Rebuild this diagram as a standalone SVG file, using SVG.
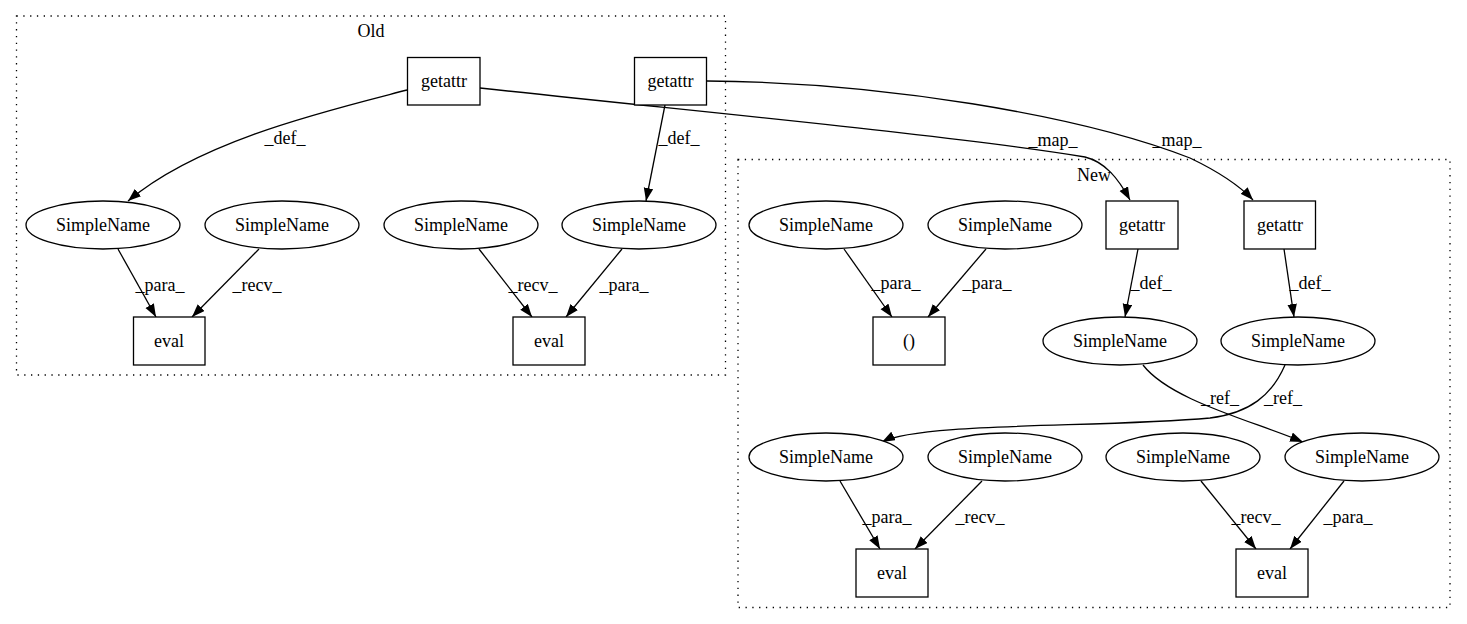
<svg xmlns="http://www.w3.org/2000/svg" width="1467" height="624" viewBox="0 0 1467 624">
<defs>
<marker id="ah" markerUnits="userSpaceOnUse" markerWidth="14" markerHeight="10" refX="13" refY="4.8" orient="auto">
<path d="M0,0 L13,4.8 L0,9.6 z" fill="#000"/>
</marker>
<style>
text{font-family:"Liberation Serif","Times New Roman",serif;font-size:18px;fill:#000;text-anchor:middle}
.cl{fill:none;stroke:#000;stroke-width:1.3;stroke-dasharray:1.3,5.5}
.n{fill:#fff;stroke:#000;stroke-width:1.3}
.e{fill:none;stroke:#000;stroke-width:1.3;marker-end:url(#ah)}
</style>
</defs>
<rect width="1467" height="624" fill="#fff"/>
<g id="cluster_old">
<rect class="cl" x="16.5" y="16" width="709" height="359"/>
<text x="371" y="37">Old</text>
</g>
<g id="cluster_new">
<rect class="cl" x="738" y="159.5" width="712" height="448"/>
<text x="1094" y="181">New</text>
</g>
<g id="edges">
<path class="e" d="M407,90 C330,110 200,140 128,201"/>
<path class="e" d="M665,105 L646,201"/>
<path class="e" d="M480,88 C700,112 950,135 1085,157 C1105,162 1118,178 1130,200"/>
<path class="e" d="M707,81 C880,82 1080,115 1190,158 C1215,170 1238,184 1253,200"/>
<path class="e" d="M118,249 L156,317"/>
<path class="e" d="M259,249 L192,317"/>
<path class="e" d="M479,249 L532,317"/>
<path class="e" d="M622,249 L566,317"/>
<path class="e" d="M844,249 L892,317"/>
<path class="e" d="M986,249 L928,317"/>
<path class="e" d="M1138,249 L1125,317"/>
<path class="e" d="M1284,249 L1294,317"/>
<path class="e" d="M1143,365 C1170,400 1250,420 1303,442"/>
<path class="e" d="M1285,365 C1272,395 1250,413 1210,418 C1100,428 920,422 882,442"/>
<path class="e" d="M840,481 L880,549"/>
<path class="e" d="M982,481 L915,549"/>
<path class="e" d="M1201,481 L1256,549"/>
<path class="e" d="M1344,481 L1290,549"/>
<text x="285" y="144">_def_</text>
<text x="679" y="144">_def_</text>
<text x="1053" y="146">_map_</text>
<text x="1177" y="146">_map_</text>
<text x="160" y="291">_para_</text>
<text x="257" y="291">_recv_</text>
<text x="533" y="291">_recv_</text>
<text x="624" y="291">_para_</text>
<text x="896" y="289">_para_</text>
<text x="987" y="289">_para_</text>
<text x="1151" y="289">_def_</text>
<text x="1310" y="289">_def_</text>
<text x="1220" y="404">_ref_</text>
<text x="1283" y="404">_ref_</text>
<text x="887" y="523">_para_</text>
<text x="980" y="523">_recv_</text>
<text x="1256" y="523">_recv_</text>
<text x="1348" y="523">_para_</text>
</g>
<g id="old_getattr1"><rect class="n" x="407.5" y="57.5" width="72.5" height="47.5"/><text x="444" y="87">getattr</text></g>
<g id="old_getattr2"><rect class="n" x="634.5" y="57.5" width="72" height="47.5"/><text x="670.5" y="87">getattr</text></g>
<g id="old_sn1"><ellipse class="n" cx="103" cy="225" rx="77" ry="24"/><text x="103" y="231">SimpleName</text></g>
<g id="old_sn2"><ellipse class="n" cx="282" cy="225" rx="77" ry="24"/><text x="282" y="231">SimpleName</text></g>
<g id="old_sn3"><ellipse class="n" cx="461" cy="225" rx="77" ry="24"/><text x="461" y="231">SimpleName</text></g>
<g id="old_sn4"><ellipse class="n" cx="639" cy="225" rx="77" ry="24"/><text x="639" y="231">SimpleName</text></g>
<g id="old_eval1"><rect class="n" x="133.5" y="317" width="71.5" height="48"/><text x="169" y="347">eval</text></g>
<g id="old_eval2"><rect class="n" x="513" y="317" width="72" height="48"/><text x="549" y="347">eval</text></g>
<g id="new_sn_a"><ellipse class="n" cx="826" cy="225" rx="77" ry="24"/><text x="826" y="231">SimpleName</text></g>
<g id="new_sn_b"><ellipse class="n" cx="1005" cy="225" rx="77" ry="24"/><text x="1005" y="231">SimpleName</text></g>
<g id="new_getattr1"><rect class="n" x="1106" y="201" width="72" height="48"/><text x="1142" y="231">getattr</text></g>
<g id="new_getattr2"><rect class="n" x="1244" y="201" width="71.5" height="48"/><text x="1280" y="231">getattr</text></g>
<g id="new_call"><rect class="n" x="873" y="317" width="72" height="48"/><text x="909" y="347">()</text></g>
<g id="new_sn_c"><ellipse class="n" cx="1120" cy="341" rx="77" ry="24"/><text x="1120" y="347">SimpleName</text></g>
<g id="new_sn_d"><ellipse class="n" cx="1298" cy="341" rx="77" ry="24"/><text x="1298" y="347">SimpleName</text></g>
<g id="new_sn_e"><ellipse class="n" cx="826" cy="457" rx="77" ry="24"/><text x="826" y="463">SimpleName</text></g>
<g id="new_sn_f"><ellipse class="n" cx="1005" cy="457" rx="77" ry="24"/><text x="1005" y="463">SimpleName</text></g>
<g id="new_sn_g"><ellipse class="n" cx="1183" cy="457" rx="77" ry="24"/><text x="1183" y="463">SimpleName</text></g>
<g id="new_sn_h"><ellipse class="n" cx="1362" cy="457" rx="77" ry="24"/><text x="1362" y="463">SimpleName</text></g>
<g id="new_eval1"><rect class="n" x="856" y="549" width="72" height="48"/><text x="892" y="579">eval</text></g>
<g id="new_eval2"><rect class="n" x="1236" y="549" width="72" height="48"/><text x="1272" y="579">eval</text></g>
</svg>
